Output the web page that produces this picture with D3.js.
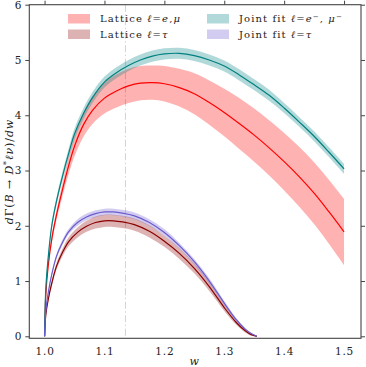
<!DOCTYPE html>
<html>
<head>
<meta charset="utf-8">
<script src="https://cdn.jsdelivr.net/npm/d3@7"></script>
<style>
  html, body { margin: 0; padding: 0; background: #fff; }
  svg { display: block; }
  text { font-family: "DejaVu Serif", "Liberation Serif", serif; fill: #222; }
</style>
</head>
<body>
<svg id="chart" width="366" height="367"></svg>
<script>
// ---- data ----
const wLight = [1.0, 1.002, 1.006, 1.012, 1.02, 1.03, 1.04, 1.05, 1.065, 1.08, 1.1, 1.12, 1.14, 1.16, 1.18, 1.2, 1.225, 1.25, 1.275, 1.3, 1.325, 1.35, 1.375, 1.4, 1.425, 1.45, 1.475, 1.5];
const latticeLight = [0, 0.74, 1.27, 1.76, 2.20, 2.66, 3.08, 3.44, 3.83, 4.09, 4.31, 4.44, 4.53, 4.58, 4.59, 4.57, 4.50, 4.39, 4.23, 4.05, 3.85, 3.64, 3.41, 3.16, 2.89, 2.59, 2.25, 1.89];
const latticeLightErr = [0, 0.03, 0.05, 0.07, 0.09, 0.12, 0.15, 0.18, 0.22, 0.25, 0.28, 0.30, 0.31, 0.31, 0.31, 0.32, 0.34, 0.37, 0.40, 0.43, 0.46, 0.48, 0.50, 0.52, 0.54, 0.56, 0.58, 0.60];
const jointLight = [0, 0.84, 1.42, 2.00, 2.45, 2.90, 3.30, 3.66, 4.03, 4.32, 4.60, 4.77, 4.90, 5.00, 5.07, 5.11, 5.12, 5.08, 5.00, 4.89, 4.73, 4.55, 4.36, 4.13, 3.88, 3.62, 3.33, 3.03];
const jointLightErr = [0, 0.03, 0.05, 0.06, 0.07, 0.08, 0.09, 0.10, 0.10, 0.10, 0.10, 0.10, 0.10, 0.10, 0.10, 0.10, 0.10, 0.10, 0.10, 0.10, 0.10, 0.10, 0.10, 0.09, 0.09, 0.09, 0.09, 0.09];

const wTau = [1.0, 1.002, 1.006, 1.012, 1.02, 1.03, 1.04, 1.055, 1.07, 1.085, 1.1, 1.115, 1.13, 1.15, 1.175, 1.2, 1.225, 1.25, 1.275, 1.3, 1.32, 1.335, 1.345, 1.3545];
const latticeTau = [0, 0.38, 0.66, 0.96, 1.27, 1.52, 1.71, 1.88, 1.99, 2.06, 2.09, 2.09, 2.07, 2.02, 1.90, 1.72, 1.50, 1.23, 0.90, 0.52, 0.25, 0.10, 0.03, 0];
const latticeTauErr = [0, 0.02, 0.03, 0.05, 0.06, 0.07, 0.08, 0.09, 0.10, 0.11, 0.11, 0.11, 0.11, 0.11, 0.11, 0.10, 0.10, 0.09, 0.08, 0.06, 0.04, 0.03, 0.02, 0];
const jointTau = [0, 0.45, 0.78, 1.12, 1.45, 1.70, 1.89, 2.06, 2.16, 2.22, 2.25, 2.25, 2.23, 2.18, 2.06, 1.88, 1.64, 1.35, 1.00, 0.60, 0.30, 0.13, 0.05, 0];
const jointTauErr = [0, 0.01, 0.02, 0.03, 0.04, 0.05, 0.05, 0.06, 0.06, 0.06, 0.06, 0.06, 0.06, 0.06, 0.06, 0.06, 0.05, 0.05, 0.05, 0.04, 0.03, 0.02, 0.01, 0];

const xTicks = [1.0, 1.1, 1.2, 1.3, 1.4, 1.5];
const yTicks = [0, 1, 2, 3, 4, 5, 6];
const refLineW = 1.135;

const series = [
  {w: wLight, y: latticeLight, e: latticeLightErr, color: "#ff0000", fillOp: 0.3},
  {w: wTau, y: latticeTau, e: latticeTauErr, color: "#8b0000", fillOp: 0.3},
  {w: wLight, y: jointLight, e: jointLightErr, color: "#008080", fillOp: 0.3},
  {w: wTau, y: jointTau, e: jointTauErr, color: "#6a5acd", fillOp: 0.3}
];

// ---- layout ----
const L = 29.3, R = 361, T = 4.7, B = 338.3;
const x = d3.scaleLinear().domain([0.9745, 1.5283]).range([L, R]);
const y = d3.scaleLinear().domain([-0.036, 6]).range([B, T]);

const svg = d3.select("#chart");

// reference vertical line
svg.append("line")
  .attr("x1", x(refLineW)).attr("x2", x(refLineW))
  .attr("y1", T).attr("y2", B)
  .attr("stroke", "#d2d2d2").attr("stroke-width", 1)
  .attr("stroke-dasharray", "7,2.5,1.5,2.5");

const curve = d3.curveCatmullRom.alpha(0.5);
const plot = svg.append("g");
series.forEach(s => {
  const pts = s.w.map((w, i) => ({w, v: s.y[i], e: s.e[i]}));
  const area = d3.area().curve(curve)
    .x(d => x(d.w)).y0(d => y(d.v - d.e)).y1(d => y(d.v + d.e));
  const line = d3.line().curve(curve)
    .x(d => x(d.w)).y(d => y(d.v));
  plot.append("path").datum(pts).attr("d", area)
    .attr("fill", s.color).attr("fill-opacity", s.fillOp).attr("stroke", "none");
  plot.append("path").datum(pts).attr("d", line)
    .attr("fill", "none").attr("stroke", s.color).attr("stroke-width", 1.2);
});

// frame
svg.append("rect").attr("x", L).attr("y", T).attr("width", R - L).attr("height", B - T)
  .attr("fill", "none").attr("stroke", "#444").attr("stroke-width", 1.1);

// axes
const fontSize = 10.5;
const yAxisL = d3.axisLeft(y).tickValues(yTicks).tickSize(4).tickPadding(3).tickFormat(d3.format("d"));
const gL = svg.append("g").attr("transform", `translate(${L},0)`).call(yAxisL);
const yAxisR = d3.axisRight(y).tickValues(yTicks).tickSize(4).tickFormat("");
const gR = svg.append("g").attr("transform", `translate(${R},0)`).call(yAxisR);
const xAxisB = d3.axisBottom(x).tickValues(xTicks).tickSize(0).tickPadding(9).tickFormat(d3.format(".1f"));
const gB = svg.append("g").attr("transform", `translate(0,${B})`).call(xAxisB);
const xAxisT = d3.axisTop(x).tickValues(xTicks).tickSize(4).tickFormat("");
const gT = svg.append("g").attr("transform", `translate(0,${T})`).call(xAxisT);
[gL, gR, gB, gT].forEach(g => {
  g.select(".domain").remove();
  g.selectAll(".tick line").attr("stroke", "#444").attr("stroke-width", 1);
  g.selectAll(".tick text").attr("font-family", '"DejaVu Serif", serif')
    .attr("font-size", fontSize).attr("fill", "#222").attr("letter-spacing", 0.8);
});

// axis labels
svg.append("text").attr("x", x(1.25)).attr("y", 364.5)
  .attr("text-anchor", "middle").attr("font-size", 11).attr("font-style", "italic").text("w");

const yl = svg.append("text")
  .attr("transform", `translate(12.5,${(T + B) / 2}) rotate(-90)`)
  .attr("text-anchor", "middle").attr("font-size", 11).attr("letter-spacing", 0.9);
const ylParts = [["d", true], ["Γ(", false], ["B", true], [" → ", false], ["D", true], ["*", false, "sup"], ["ℓν", true], [")/", false], ["dw", true]];
ylParts.forEach(p => {
  const t = yl.append("tspan").text(p[0]).attr("font-style", p[1] ? "italic" : "normal");
  if (p[2] === "sup") { t.attr("dy", -4).attr("font-size", 8); }
  else if (p[0] === "ℓν") { t.attr("dy", 4); }
});

// legend
const legendItems = [
  {label: [["Lattice ", false], ["ℓ", true], ["=", false], ["e", true], [",", false], ["μ", true]], color: "#ff0000", col: 0, row: 0},
  {label: [["Lattice ", false], ["ℓ", true], ["=", false], ["τ", true]], color: "#8b0000", col: 0, row: 1},
  {label: [["Joint fit ", false], ["ℓ", true], ["=", false], ["e", true], ["−", false, "sup"], [", ", false, "down"], ["μ", true], ["−", false, "sup"]], color: "#008080", col: 1, row: 0},
  {label: [["Joint fit ", false], ["ℓ", true], ["=", false], ["τ", true]], color: "#6a5acd", col: 1, row: 1}
];
const colX = [68, 207], rowY = [14, 29.5];
legendItems.forEach(it => {
  const g = svg.append("g");
  g.append("rect").attr("x", colX[it.col]).attr("y", rowY[it.row])
    .attr("width", 22).attr("height", 9.5)
    .attr("fill", it.color).attr("fill-opacity", 0.3);
  const t = g.append("text").attr("x", colX[it.col] + 32).attr("y", rowY[it.row] + 8.3)
    .attr("font-size", 10).attr("letter-spacing", 1.1);
  it.label.forEach(p => {
    const ts = t.append("tspan").text(p[0]).attr("font-style", p[1] ? "italic" : "normal");
    if (p[2] === "sup") ts.attr("dy", -3.5).attr("font-size", 7);
    if (p[2] === "down") ts.attr("dy", 3.5);
  });
});
</script>
</body>
</html>
